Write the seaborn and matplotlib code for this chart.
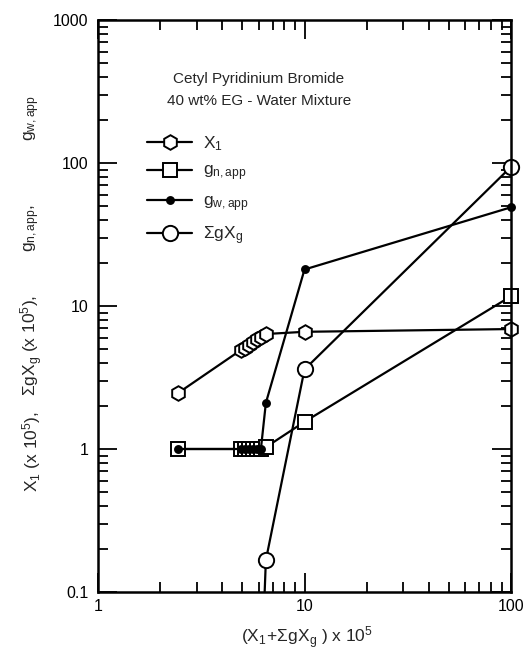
import numpy as np
import pandas as pd
import matplotlib
matplotlib.use("Agg")
import matplotlib.pyplot as plt
import seaborn as sns

# ---- data ----
x_total = [2.45, 4.9, 5.15, 5.4, 5.65, 5.9, 6.15, 6.5, 10.0, 100.0]
x1_vals = [2.47, 4.9, 5.12, 5.35, 5.6, 5.85, 6.1, 6.37, 6.6, 6.9]
gn_vals = [1.0, 1.0, 1.0, 1.0, 1.0, 1.0, 1.0, 1.03, 1.55, 11.7]
gw_vals = [1.0, 1.0, 1.0, 1.0, 1.0, 1.0, 1.0, 2.1, 18.0, 49.0]
# values below 0.1 fall outside the plotted range (only the connecting line shows)
sg_vals = [np.nan, np.nan, np.nan, np.nan, np.nan, np.nan, 0.02, 0.167, 3.6, 94.0]

series_names = ["X1", "gn", "gw", "SgXg"]
legend_labels = [r"$\mathregular{X_1}$", r"$\mathregular{g_{n,app}}$",
                 r"$\mathregular{g_{w,app}}$", r"$\mathregular{\Sigma gX_g}$"]
title_lines = ["Cetyl Pyridinium Bromide", "40 wt% EG - Water Mixture"]
x_ticks = [1, 10, 100]
x_ticklabels = ["1", "10", "100"]
y_ticks = [0.1, 1, 10, 100, 1000]
y_ticklabels = ["0.1", "1", "10", "100", "1000"]
y_min, y_max = 0.1, 1000

df = pd.DataFrame({
    "x": x_total * 4,
    "y": x1_vals + gn_vals + gw_vals + sg_vals,
    "series": sum([[s] * len(x_total) for s in series_names], []),
})

sns.set_style("ticks")
plt.rcParams["font.family"] = ["Liberation Sans", "DejaVu Sans"]
plt.rcParams["mathtext.fontset"] = "custom"
plt.rcParams["mathtext.rm"] = "Liberation Sans"
plt.rcParams["mathtext.it"] = "Liberation Sans"

fig = plt.figure(figsize=(5.27, 6.6), dpi=100)
ax = fig.add_axes([98 / 527, 1 - 592 / 660, (511 - 98) / 527, (592 - 20) / 660])

styles = {
    "SgXg": dict(marker="o", markersize=11, markerfacecolor="white"),
    "X1": dict(marker="h", markersize=10.5, markerfacecolor="white"),
    "gn": dict(marker="s", markersize=9.5, markerfacecolor="white"),
    "gw": dict(marker="o", markersize=5, markerfacecolor="black"),
}
handles = {}
for name in ["SgXg", "X1", "gn", "gw"]:
    sub = df[df["series"] == name].dropna()
    st = styles[name]
    # connecting line (clipped to the axes)
    sns.lineplot(data=sub, x="x", y="y", ax=ax, sort=False, estimator=None,
                 color="black", linewidth=1.6, legend=False)
    # markers (in range only, not clipped at the frame)
    inr = sub[(sub["y"] >= y_min) & (sub["y"] <= y_max)]
    sns.lineplot(data=inr, x="x", y="y", ax=ax, sort=False, estimator=None,
                 color="black", linestyle="", marker=st["marker"],
                 markersize=st["markersize"], markerfacecolor=st["markerfacecolor"],
                 markeredgecolor="black", markeredgewidth=1.4, legend=False)
    ax.lines[-1].set_clip_on(False)
    handles[name] = plt.Line2D([], [], color="black", linewidth=1.6, marker=st["marker"],
                               markersize=st["markersize"],
                               markerfacecolor=st["markerfacecolor"],
                               markeredgecolor="black", markeredgewidth=1.4)

ax.set_xscale("log")
ax.set_yscale("log")
ax.set_xlim(1, 100)
ax.set_ylim(y_min, y_max)
ax.set_xticks(x_ticks)
ax.set_xticklabels(x_ticklabels)
ax.set_yticks(y_ticks)
ax.set_yticklabels(y_ticklabels)
ax.tick_params(which="both", direction="in", top=True, right=True, labelsize=11.5,
               width=1.3, colors="black")
ax.tick_params(which="major", length=14, pad=7)
ax.tick_params(axis="x", which="major", pad=5)
ax.tick_params(which="minor", length=7)
for sp in ax.spines.values():
    sp.set_linewidth(1.8)
    sp.set_color("black")
ax.set_xlabel("")
ax.set_ylabel("")

leg = ax.legend([handles[s] for s in series_names], legend_labels,
                loc="upper left", bbox_to_anchor=(0.09, 0.822), frameon=False,
                fontsize=12.5, handlelength=2.6, labelspacing=0.62, handletextpad=0.6,
                borderpad=0.2)

for i, line in enumerate(title_lines):
    ax.text(259 / 527, 1 - (79 + 22 * i) / 660, line, transform=fig.transFigure,
            ha="center", va="center", fontsize=11)

fig.text(307 / 527, 1 - 638 / 660, r"$\mathregular{(X_1\!+\!\Sigma gX_g\ )\ x\ 10^5}$",
         ha="center", va="center", fontsize=12.5)

ylabel_parts = [r"$\mathregular{X_1\ (x\ 10^5),}$", r"$\mathregular{\Sigma gX_g\ (x\ 10^5),}$",
                r"$\mathregular{g_{n,app},}$", r"$\mathregular{g_{w,app}}$"]
ylabel_pos = [452, 345, 228, 118]
for txt, yp in zip(ylabel_parts, ylabel_pos):
    fig.text(32 / 527, 1 - yp / 660, txt, rotation=90, ha="center", va="center",
             fontsize=12.5)

fig.savefig("out.png", dpi=100)
